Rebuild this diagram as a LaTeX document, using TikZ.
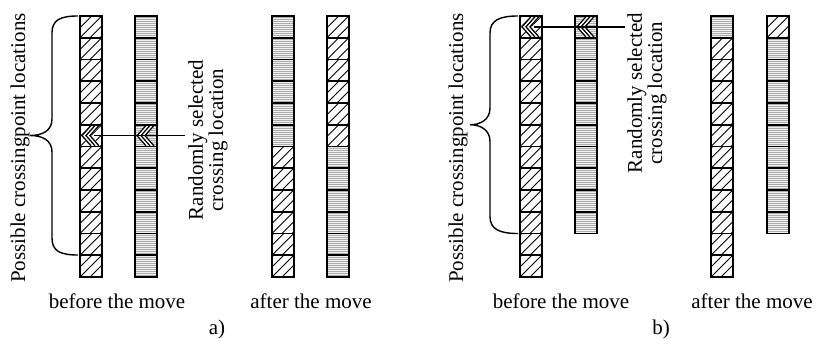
\documentclass[tikz,border=0pt]{standalone}
\usepackage{fontspec}
\setmainfont{Liberation Serif}
\usetikzlibrary{calc}

% one column of genes; #1 name, #2 x of centre, #3 list of D (diagonal) / H (horizontal)
\newcommand\genecol[3]{%
  \foreach \t [count=\i] in {#3}
    \node[style/.expanded=gene\t] (#1-\i) at (#2,{322-(\i-0.5)*21.75}) {};}

% chevron mark on a chosen gene
\newcommand\pickmark[1]{%
  \begin{scope}[shift={(#1.center)}]
    \fill[white] (-10,0) -- (-1,10.2) -- (9,10.2) -- (0,0) -- (9,-10.2) -- (-1,-10.2) -- cycle;
    \foreach \d in {-9,-5,-1}
      \draw[line width=1.3pt] ({\d+9},10.2) -- (\d,0) -- ({\d+9},-10.2);
  \end{scope}
  \draw[line width=1.8pt] (#1.south west) rectangle (#1.north east);}

\begin{document}
\begin{tikzpicture}[x=1pt,y=1pt,
  gene/.style={draw, line width=1.8pt, minimum width=22pt, minimum height=21.75pt,
    inner sep=0pt, outer sep=0pt},
  geneD/.style={gene, fill=white, path picture={
      \foreach \k in {-20,-10,...,20}
        \draw[line width=0.8pt] ([xshift=\k pt]path picture bounding box.south west) -- ++(30pt,30pt);}},
  geneH/.style={gene, fill=gray!12, path picture={
      \foreach \k in {1,...,10}
        \draw[gray!65, line width=0.6pt] ([yshift=\k*2pt]path picture bounding box.south west) -- ++(22pt,0pt);}},
  lbl/.style={font=\fontsize{21}{17}\selectfont, inner sep=0pt},
  lead/.style={line width=1.6pt},
  bracepath/.style={line width=1.4pt},
]
\useasboundingbox (0,0) rectangle (816,338);

% ---------- a) ----------
\genecol{A1}{91}{D,D,D,D,D,D,D,D,D,D,D,D}
\genecol{A2}{146}{H,H,H,H,H,H,H,H,H,H,H,H}
\genecol{A3}{283}{H,H,H,H,H,H,D,D,D,D,D,D}
\genecol{A4}{338}{D,D,D,D,D,D,H,H,H,H,H,H}
\pickmark{A1-6}
\pickmark{A2-6}
\coordinate (aend) at (185,0);
\draw[lead] ([xshift=3pt]A1-6.center) -- (A1-6.center -| aend);

\draw[bracepath] (78,322) .. controls (60,322) and (52,318) .. (52,305) -- (52,219)
  .. controls (52,207) and (42,202.5) .. (30,202.5)
  .. controls (42,202.5) and (52,198) .. (52,186) -- (52,100)
  .. controls (52,87) and (60,83) .. (78,83);

\node[lbl, rotate=90] (possa) at (20,190) {Possible crossingpoint locations};
\node[lbl, rotate=90, align=center] (randa) at (208,198) {Randomly selected\\crossing location};
\node[lbl] (befa) at (117,37) {before the move};
\node[lbl] (afta) at (311,37) {after the move};
\node[lbl] (capa) at (217,9) {a)};

% ---------- b) ----------
\genecol{B1}{531}{D,D,D,D,D,D,D,D,D,D,D,D}
\genecol{B2}{586}{H,H,H,H,H,H,H,H,H,H}
\genecol{B3}{722}{H,D,D,D,D,D,D,D,D,D,D,D}
\genecol{B4}{778}{D,H,H,H,H,H,H,H,H,H}
\pickmark{B1-1}
\pickmark{B2-1}
\coordinate (bend) at (625,0);
\draw[lead] ([xshift=3pt]B1-1.center) -- (B1-1.center -| bend);

\draw[bracepath] (518,322) .. controls (500,322) and (490,318) .. (490,305) -- (490,230)
  .. controls (490,218) and (480,213.25) .. (470,213.25)
  .. controls (480,213.25) and (490,208.5) .. (490,196.5) -- (490,121.5)
  .. controls (490,108.5) and (500,104.5) .. (518,104.5);

\node[lbl, rotate=90] (possb) at (458,190) {Possible crossingpoint locations};
\node[lbl, rotate=90, align=center] (randb) at (647,245) {Randomly selected\\crossing location};
\node[lbl] (befb) at (561,37) {before the move};
\node[lbl] (aftb) at (752,37) {after the move};
\node[lbl] (capb) at (661,9) {b)};
\end{tikzpicture}
\end{document}
